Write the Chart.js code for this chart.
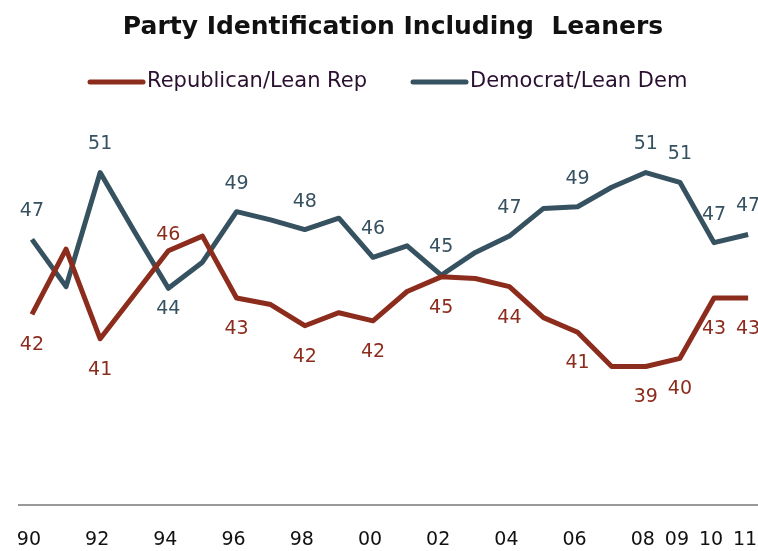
<!DOCTYPE html>
<html>
<head>
<meta charset="utf-8">
<script src="https://cdn.jsdelivr.net/npm/chart.js@4.4.0/dist/chart.umd.min.js"></script>
<style>
  html, body { margin: 0; padding: 0; background: #fff; }
</style>
</head>
<body>
<canvas id="myChart" width="758" height="551"></canvas>
<script>
// datos
const years = [1990, 1991, 1992, 1993, 1994, 1995, 1996, 1997, 1998, 1999, 2000,
               2001, 2002, 2003, 2004, 2005, 2006, 2007, 2008, 2009, 2010, 2011];
const repValues = [42.4, 46.4, 40.9, 43.6, 46.3, 47.2, 43.4, 43.0, 41.7, 42.5, 42.0,
                   43.8, 44.7, 44.6, 44.1, 42.2, 41.3, 39.2, 39.2, 39.7, 43.4, 43.4];
const demValues = [47.0, 44.1, 51.1, 47.5, 44.0, 45.6, 48.7, 48.2, 47.6, 48.3, 45.9,
                   46.6, 44.8, 46.2, 47.2, 48.9, 49.0, 50.2, 51.1, 50.5, 46.8, 47.3];
const repLabels = ['42', null, '41', null, '46', null, '43', null, '42', null, '42',
                   null, '45', null, '44', null, '41', null, '39', '40', '43', '43'];
const demLabels = ['47', null, '51', null, '44', null, '49', null, '48', null, '46',
                   null, '45', null, '47', null, '49', null, '51', '51', '47', '47'];
const xTicks = [1990, 1992, 1994, 1996, 1998, 2000, 2002, 2004, 2006, 2008, 2009, 2010, 2011];

const titulo = 'Party Identification Including  Leaners';
const rojo = '#8c2c1c';
const azul = '#36515f';

// titulo y leyenda dibujados a mano
const encabezado = {
  id: 'encabezado',
  afterDraw(chart) {
    const ctx = chart.ctx;
    ctx.save();
    ctx.fillStyle = '#111';
    ctx.textBaseline = 'middle';
    ctx.textAlign = 'center';
    ctx.font = 'bold 25px "DejaVu Sans"';
    ctx.fillText(titulo, 393, 27);

    ctx.textAlign = 'left';
    ctx.font = '21px "DejaVu Sans"';
    ctx.lineWidth = 5;
    ctx.lineCap = 'round';
    const items = [[chart.data.datasets[0], 90], [chart.data.datasets[1], 413]];
    items.forEach(([ds, x]) => {
      ctx.strokeStyle = ds.borderColor;
      ctx.beginPath();
      ctx.moveTo(x, 82);
      ctx.lineTo(x + 53, 82);
      ctx.stroke();
      ctx.fillStyle = '#2a1030';
      ctx.fillText(ds.label, x + 57, 82);
    });
    ctx.restore();
  }
};

// etiquetas de valores
const etiquetas = {
  id: 'etiquetas',
  afterDatasetsDraw(chart) {
    const ctx = chart.ctx;
    ctx.save();
    ctx.font = '19px "DejaVu Sans"';
    ctx.textAlign = 'center';
    ctx.textBaseline = 'middle';
    chart.data.datasets.forEach((ds, i) => {
      const meta = chart.getDatasetMeta(i);
      meta.data.forEach((pt, j) => {
        const txt = ds.textos[j];
        if (!txt) return;
        let below = ds.abajo;
        let off = below ? 31 : 28;
        if (ds.invertir.includes(j)) {
          below = !below;
          off = below ? 21 : 16;
        }
        ctx.fillStyle = ds.borderColor;
        ctx.fillText(txt, pt.x, below ? pt.y + off : pt.y - off);
      });
    });
    ctx.restore();
  }
};

const ctx = document.getElementById('myChart');

const myChart = new Chart(ctx, {
  type: 'line',
  data: {
    datasets: [{
      label: 'Republican/Lean Rep',
      data: years.map((y, i) => ({ x: y, y: repValues[i] })),
      borderColor: rojo,
      textos: repLabels,
      abajo: true,
      invertir: [4]
    }, {
      label: 'Democrat/Lean Dem',
      data: years.map((y, i) => ({ x: y, y: demValues[i] })),
      borderColor: azul,
      textos: demLabels,
      abajo: false,
      invertir: [4]
    }]
  },
  options: {
    responsive: false,
    animation: false,
    devicePixelRatio: 1,
    layout: { padding: { top: 109, left: 19, right: 0, bottom: 0 } },
    elements: {
      point: { radius: 0 },
      line: { borderWidth: 5, tension: 0, borderJoinStyle: 'round', fill: false }
    },
    plugins: {
      legend: { display: false },
      title: { display: false },
      tooltip: { enabled: false }
    },
    scales: {
      x: {
        type: 'linear',
        min: 1989.62,
        max: 2011.29,
        grid: { display: false, drawTicks: false },
        border: { display: true, color: '#999', width: 2 },
        afterBuildTicks: scale => { scale.ticks = xTicks.map(v => ({ value: v })); },
        afterFit: scale => {
          scale.paddingLeft = 0;
          scale.paddingRight = 0;
          scale.height = 46;
        },
        ticks: {
          autoSkip: false,
          maxRotation: 0,
          padding: 24,
          labelOffset: -3,
          color: '#111',
          font: { family: 'DejaVu Sans', size: 19 },
          callback: v => String(v).slice(2)
        }
      },
      y: {
        display: false,
        min: 30.7,
        max: 55
      }
    }
  },
  plugins: [encabezado, etiquetas]
});
</script>
</body>
</html>
